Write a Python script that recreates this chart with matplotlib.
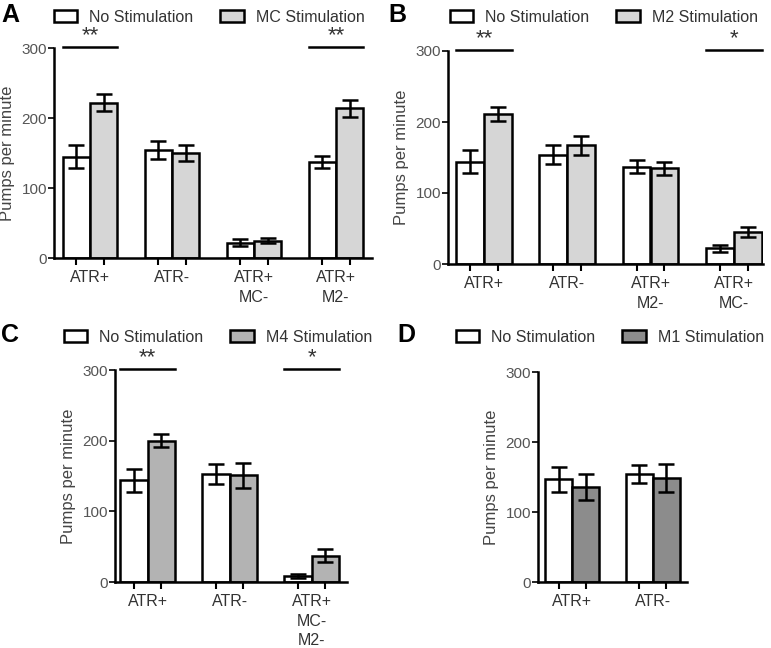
import numpy as np
import matplotlib
matplotlib.use("Agg")
from matplotlib import pyplot as plt

plt.rcParams['font.family'] = ['Liberation Sans', 'DejaVu Sans']

# panel A
a_groups = ['ATR+', 'ATR-', 'ATR+\nMC-', 'ATR+\nM2-']
a_none = [145, 154, 22, 137]
a_none_err = [16, 13, 5, 9]
a_stim = [222, 150, 25, 214]
a_stim_err = [12, 11, 4, 12]

# panel B
b_groups = ['ATR+', 'ATR-', 'ATR+\nM2-', 'ATR+\nMC-']
b_none = [144, 154, 137, 22]
b_none_err = [16, 13, 9, 5]
b_stim = [211, 167, 135, 45]
b_stim_err = [10, 13, 9, 7]

# panel C
c_groups = ['ATR+', 'ATR-', 'ATR+\nMC-\nM2-']
c_none = [144, 153, 8]
c_none_err = [16, 14, 3]
c_stim = [200, 151, 37]
c_stim_err = [9, 18, 9]

# panel D
d_groups = ['ATR+', 'ATR-']
d_none = [147, 154]
d_none_err = [18, 13]
d_stim = [136, 149]
d_stim_err = [19, 20]

fig = plt.figure(figsize=(7.71, 6.48), dpi=100)
W, H = 771, 648
TXT = '#333333'


def px_axes(left, top, right, bottom):
    return fig.add_axes([left / W, 1 - bottom / H, (right - left) / W, (bottom - top) / H])


def panel(ax, groups, none, none_err, stim, stim_err, stim_color, stim_name,
          xlim, sig, letter, letter_xy, legend_xy):
    x = np.arange(len(groups))
    w = 1 / 3
    ax.bar(x - w / 2, none, w, color='white', edgecolor='black', linewidth=1.8,
           label='No Stimulation', zorder=2)
    ax.bar(x + w / 2, stim, w, color=stim_color, edgecolor='black', linewidth=1.8,
           label=stim_name, zorder=2)
    ax.errorbar(x - w / 2, none, yerr=none_err, fmt='none', ecolor='black',
                elinewidth=1.8, capsize=5.5, capthick=1.8, zorder=3)
    ax.errorbar(x + w / 2, stim, yerr=stim_err, fmt='none', ecolor='black',
                elinewidth=1.8, capsize=5.5, capthick=1.8, zorder=3)

    ax.set_xlim(*xlim)
    ax.set_ylim(0, 300)
    ax.set_yticks([0, 100, 200, 300])
    ax.set_xticks(np.concatenate([x - w / 2, x + w / 2]), minor=False)
    ax.set_xticklabels([''] * (2 * len(groups)))
    ax.set_xticks(x, minor=True)
    ax.set_xticklabels(groups, minor=True, fontsize=11.5, color=TXT, linespacing=1.35)
    ax.tick_params(axis='x', which='minor', length=0, pad=9)
    ax.tick_params(axis='x', which='major', length=5, width=1.5, direction='out')
    ax.tick_params(axis='y', length=4, width=1.2, labelsize=11, labelcolor='#555555', pad=1)
    for s in ['top', 'right']:
        ax.spines[s].set_visible(False)
    for s in ['left', 'bottom']:
        ax.spines[s].set_linewidth(1.8)
    ax.set_ylabel('Pumps per minute', fontsize=12, color='#444444', labelpad=5)

    for g, stars in sig:
        ax.plot([g - w, g + w], [302, 302], color='black', lw=1.8, clip_on=False)
        ax.text(g, 303, stars, ha='center', va='bottom', fontsize=16, color=TXT)

    fig.text(letter_xy[0] / W, 1 - letter_xy[1] / H, letter, fontsize=18,
             fontweight='bold', ha='left', va='center')
    ax.legend(loc='center left', bbox_to_anchor=(legend_xy[0] / W, 1 - legend_xy[1] / H),
              bbox_transform=fig.transFigure, ncol=2, frameon=False, fontsize=11.5,
              handlelength=1.45, handleheight=0.7, handletextpad=0.75,
              columnspacing=1.7, borderaxespad=0, borderpad=0, labelcolor=TXT)


axA = px_axes(54, 48, 372, 258)
panel(axA, a_groups, a_none, a_none_err, a_stim, a_stim_err, '#d6d6d6', 'MC Stimulation',
      (-0.44, 3.44), [(0, '**'), (3, '**')], 'A', (1, 15), (54, 17))

axB = px_axes(448, 51, 763, 264)
panel(axB, b_groups, b_none, b_none_err, b_stim, b_stim_err, '#d6d6d6', 'M2 Stimulation',
      (-0.43, 3.35), [(0, '**'), (3, '*')], 'B', (388, 15), (450, 17))

axC = px_axes(115, 370, 347, 582)
panel(axC, c_groups, c_none, c_none_err, c_stim, c_stim_err, '#b3b3b3', 'M4 Stimulation',
      (-0.40, 2.43), [(0, '**'), (2, '*')], 'C', (1, 335), (64, 337))

axD = px_axes(538, 372, 687, 582)
panel(axD, d_groups, d_none, d_none_err, d_stim, d_stim_err, '#8c8c8c', 'M1 Stimulation',
      (-0.42, 1.42), [], 'D', (397, 335), (456, 337))

fig.savefig('out.png', dpi=100)
